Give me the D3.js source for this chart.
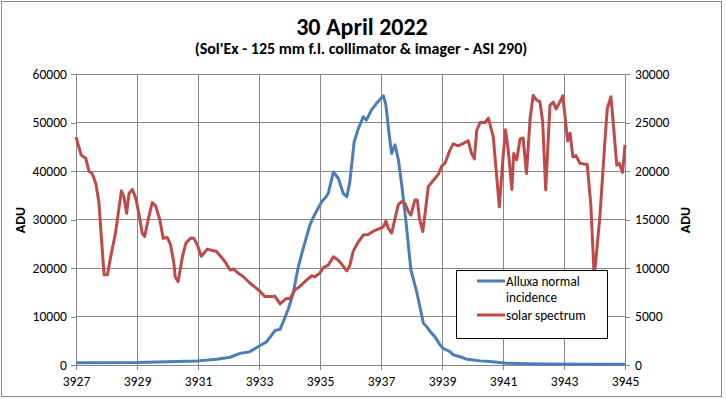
<!DOCTYPE html>
<html><head><meta charset="utf-8">
<script src="https://cdn.jsdelivr.net/npm/d3@7"></script>
<style>
html,body{margin:0;padding:0;background:#fff;}
svg{display:block;}
text{font-family:Carlito,Calibri,Lato,sans-serif;fill:#000;}
</style></head>
<body>
<svg id="chart" width="726" height="399"></svg>
<script>
const title = "30 April 2022";
const subtitle = "(Sol'Ex - 125 mm f.l. collimator & imager - ASI 290)";
const xTicks = [3927,3929,3931,3933,3935,3937,3939,3941,3943,3945];
const leftTicks = [0,10000,20000,30000,40000,50000,60000];
const rightTicks = [0,5000,10000,15000,20000,25000,30000];
const seriesNames = ["Alluxa normal incidence","solar spectrum"];

const alluxaWl = [3927.00,3929.00,3931.00,3931.61,3932.05,3932.38,3932.70,3932.98,3933.25,3933.42,3933.52,3933.69,3933.82,3933.96,3934.12,3934.29,3934.45,3934.67,3934.84,3935.06,3935.20,3935.27,3935.44,3935.60,3935.76,3935.88,3935.98,3936.12,3936.26,3936.42,3936.52,3936.69,3936.86,3937.08,3937.16,3937.27,3937.35,3937.46,3937.57,3937.68,3937.82,3937.98,3938.17,3938.39,3938.50,3938.61,3938.77,3938.93,3939.04,3939.26,3939.37,3939.59,3939.81,3940.03,3940.25,3940.57,3941.12,3942.21,3943.85,3945.00];
const alluxaVal = [450,500,850,1200,1600,2400,2750,3800,4800,6200,7100,7350,9300,11500,14800,20300,24050,28900,31200,33700,34700,35400,39800,38500,35400,34700,37800,46000,48800,51200,50500,52600,54000,55500,53600,47400,43600,45400,42300,37100,29500,19600,15100,8600,7900,6900,5800,4200,3400,2750,2100,1700,1200,1050,850,700,350,200,150,150];

const solarWl = [3927.00,3927.17,3927.32,3927.43,3927.53,3927.65,3927.75,3927.92,3928.03,3928.14,3928.30,3928.49,3928.57,3928.66,3928.74,3928.85,3928.96,3929.07,3929.17,3929.25,3929.39,3929.50,3929.61,3929.75,3929.86,3929.99,3930.10,3930.21,3930.25,3930.35,3930.49,3930.60,3930.76,3930.87,3931.00,3931.11,3931.30,3931.61,3931.89,3932.05,3932.16,3932.32,3932.49,3932.70,3932.98,3933.20,3933.42,3933.52,3933.69,3933.89,3934.02,3934.18,3934.34,3934.56,3934.73,3934.84,3935.00,3935.11,3935.27,3935.44,3935.60,3935.71,3935.88,3935.98,3936.09,3936.26,3936.42,3936.58,3936.75,3936.91,3937.08,3937.16,3937.24,3937.35,3937.46,3937.57,3937.68,3937.79,3937.90,3937.98,3938.11,3938.19,3938.26,3938.37,3938.48,3938.55,3938.72,3938.88,3938.99,3939.10,3939.26,3939.37,3939.53,3939.70,3939.86,3939.97,3940.06,3940.14,3940.25,3940.41,3940.52,3940.68,3940.77,3940.88,3940.99,3941.08,3941.17,3941.29,3941.35,3941.45,3941.56,3941.66,3941.77,3941.89,3941.99,3942.10,3942.21,3942.30,3942.40,3942.54,3942.65,3942.74,3942.87,3942.96,3943.03,3943.12,3943.20,3943.29,3943.39,3943.52,3943.69,3943.76,3943.88,3943.98,3944.02,3944.18,3944.34,3944.42,3944.54,3944.62,3944.73,3944.81,3944.92,3945.00];
const solarVal = [23500,21650,21300,19950,19750,18700,16800,9300,9300,11200,13700,17950,17350,15650,17700,18100,17200,15450,13600,13250,15300,16750,16400,14950,13050,13150,12400,10500,9100,8600,11150,12550,13100,13050,12200,11200,11950,11700,10650,9800,9900,9450,9100,8450,7750,7050,7050,7100,6300,6850,6850,7750,8100,8750,9200,9100,9500,10050,10300,11150,10800,10400,9700,10300,11750,12700,13400,13450,13800,14000,14250,14850,14100,13600,15100,16550,16850,16650,15800,15450,17000,17000,15100,13750,16500,18400,19050,19650,20500,20800,22150,22800,22600,22850,23100,21800,21250,24200,25000,25000,25450,23550,20300,16300,20950,24250,22200,18100,21800,21150,23300,23400,19750,25450,27800,27300,27150,25100,18050,26800,27100,26400,27150,27750,25750,23100,23900,21450,21600,20800,20700,20700,16500,9800,9950,15450,23000,26450,27650,24750,20600,20800,19850,22700];

const svg = d3.select("#chart");
const plot = {left:76, right:625, top:74, bottom:365};
const gridColor = "#878787";
const blue = "#4A7EBB", red = "#BE4B48";
const tickFont = 13.6, legendFont = 13.2;

// chart border
svg.append("rect").attr("x",1.5).attr("y",1.5).attr("width",720).attr("height",395)
  .attr("fill","#fff").attr("stroke","#8c8c8c").attr("stroke-width",1);

const x = d3.scaleLinear().domain([3927,3945]).range([plot.left,plot.right]);
const yL = d3.scaleLinear().domain([0,60000]).range([plot.bottom,plot.top]);
const yR = d3.scaleLinear().domain([0,30000]).range([plot.bottom,plot.top]);

// gridlines
const g = svg.append("g").attr("stroke",gridColor).attr("stroke-width",1).attr("shape-rendering","crispEdges");
leftTicks.forEach(v=>{ g.append("line").attr("x1",plot.left).attr("x2",plot.right).attr("y1",yL(v)).attr("y2",yL(v)); });
xTicks.forEach(v=>{ g.append("line").attr("x1",x(v)).attr("x2",x(v)).attr("y1",plot.top).attr("y2",plot.bottom); });

// axes
const fmt = d3.format("d");
const axL = svg.append("g").attr("transform",`translate(${plot.left},0)`)
  .call(d3.axisLeft(yL).tickValues(leftTicks).tickFormat(fmt).tickSizeOuter(0).tickSize(5).tickPadding(4));
const axR = svg.append("g").attr("transform",`translate(${plot.right},0)`)
  .call(d3.axisRight(yR).tickValues(rightTicks).tickFormat(fmt).tickSizeOuter(0).tickSize(5).tickPadding(5));
const axB = svg.append("g").attr("transform",`translate(0,${plot.bottom})`)
  .call(d3.axisBottom(x).tickValues(xTicks).tickFormat(fmt).tickSizeOuter(0).tickSize(5).tickPadding(6));
[axL,axR,axB].forEach(a=>{
  a.selectAll("path,line").attr("stroke",gridColor).attr("shape-rendering","crispEdges");
  a.selectAll("text").attr("font-family","Carlito,Calibri,Lato,sans-serif").attr("font-size",tickFont).attr("fill","#000");
});

// lines
const lineL = d3.line().x(d=>x(d[0])).y(d=>yL(d[1]));
const lineR = d3.line().x(d=>x(d[0])).y(d=>yR(d[1]));
svg.append("path").datum(alluxaWl.map((w,i)=>[w,alluxaVal[i]]))
  .attr("d",lineL).attr("fill","none").attr("stroke",blue).attr("stroke-width",3).attr("stroke-linejoin","round");
svg.append("path").datum(solarWl.map((w,i)=>[w,solarVal[i]]))
  .attr("d",lineR).attr("fill","none").attr("stroke",red).attr("stroke-width",3).attr("stroke-linejoin","round");

// titles
svg.append("text").attr("x",362).attr("y",35).attr("text-anchor","middle")
  .attr("font-size",24).attr("font-weight","bold").text(title);
svg.append("text").attr("x",361).attr("y",54).attr("text-anchor","middle")
  .attr("font-size",16).attr("font-weight","bold").text(subtitle);

// axis titles
svg.append("text").attr("transform","translate(25,220) rotate(-90)").attr("text-anchor","middle")
  .attr("font-size",14).attr("font-weight","bold").text("ADU");
svg.append("text").attr("transform","translate(690,220) rotate(-90)").attr("text-anchor","middle")
  .attr("font-size",14).attr("font-weight","bold").text("ADU");

// legend
const lg = svg.append("g");
lg.append("rect").attr("x",456.5).attr("y",270.5).attr("width",151).attr("height",68)
  .attr("fill","#fff").attr("stroke","#000").attr("stroke-width",1);
lg.append("line").attr("x1",477).attr("x2",505).attr("y1",281).attr("y2",281).attr("stroke",blue).attr("stroke-width",3);
lg.append("text").attr("x",506).attr("y",285.5).attr("font-size",legendFont).text("Alluxa normal");
lg.append("text").attr("x",506).attr("y",302).attr("font-size",legendFont).text("incidence");
lg.append("line").attr("x1",477).attr("x2",505).attr("y1",315).attr("y2",315).attr("stroke",red).attr("stroke-width",3);
lg.append("text").attr("x",506).attr("y",319.5).attr("font-size",legendFont).text("solar spectrum");
</script>
</body></html>
